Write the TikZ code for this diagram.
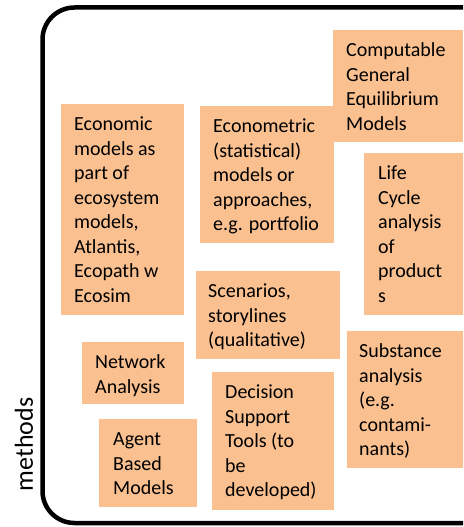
\documentclass[tikz,border=0pt]{standalone}
\usepackage{fontspec}
\setmainfont{Carlito}
\definecolor{boxc}{HTML}{FAC090}
\begin{document}
\begin{tikzpicture}[x=1pt,y=-1pt,
  box/.style={fill=boxc, draw=none, anchor=north west, inner sep=0pt, outer sep=0pt},
  txt/.style={anchor=north west, inner sep=0pt, align=left, text=black,
    font=\fontsize{20}{24.5}\selectfont},
  frame/.style={draw=black, line width=4.5pt, rounded corners=32pt}]
\useasboundingbox (0,0) rectangle (463,527);
\clip (0,0) rectangle (463,527);
\fill[white] (0,0) rectangle (463,527);
\draw[frame] (42.5,7.5) rectangle (540,523);
% boxes
\node[box, minimum width=130pt, minimum height=112pt] (b1) at (333,30) {};
\node[box, minimum width=123pt, minimum height=211pt] (b2) at (61,104) {};
\node[box, minimum width=134pt, minimum height=137pt] (b3) at (200,106) {};
\node[box, minimum width=110pt, minimum height=162pt] (b4) at (364,153) {};
\node[box, minimum width=144pt, minimum height=88pt] (b5) at (196,271) {};
\node[box, minimum width=102pt, minimum height=62pt] (b6) at (82,342) {};
\node[box, minimum width=98pt, minimum height=88pt] (b7) at (99,419) {};
\node[box, minimum width=122pt, minimum height=138pt] (b8) at (212,372) {};
\node[box, minimum width=120pt, minimum height=137pt] (b9) at (347,331) {};
% texts
\node[txt] (t1) at ([shift={(13pt,-9.5pt)}]b1.north west) {\strut Computable\\General\\Equilibrium\\Models};
\node[txt] (t2) at ([shift={(13pt,-9.5pt)}]b2.north west) {\strut Economic\\models as\\part of\\ecosystem\\models,\\Atlantis,\\Ecopath w\\Ecosim};
\node[txt] (t3) at ([shift={(13pt,-9.5pt)}]b3.north west) {\strut Econometric\\(statistical)\\models or\\approaches,\\e.g. portfolio};
\node[txt] (t4) at ([shift={(14pt,-9.5pt)}]b4.north west) {\strut Life\\Cycle\\analysis\\of\\product\\s};
\node[txt] (t5) at ([shift={(12pt,-9.5pt)}]b5.north west) {\strut Scenarios,\\storylines\\(qualitative)};
\node[txt] (t6) at ([shift={(13pt,-9.5pt)}]b6.north west) {\strut Network\\Analysis};
\node[txt] (t7) at ([shift={(14pt,-9.5pt)}]b7.north west) {\strut Agent\\Based\\Models};
\node[txt] (t8) at ([shift={(13pt,-9.5pt)}]b8.north west) {\strut Decision\\Support\\Tools (to\\be\\developed)};
\node[txt] (t9) at ([shift={(12pt,-9.5pt)}]b9.north west) {\strut Substance\\analysis\\(e.g.\\contami-\\nants)};
\node[rotate=90, font=\fontsize{26}{30}\selectfont, inner sep=0pt] (m) at (24,444.5) {methods};
\end{tikzpicture}
\end{document}
